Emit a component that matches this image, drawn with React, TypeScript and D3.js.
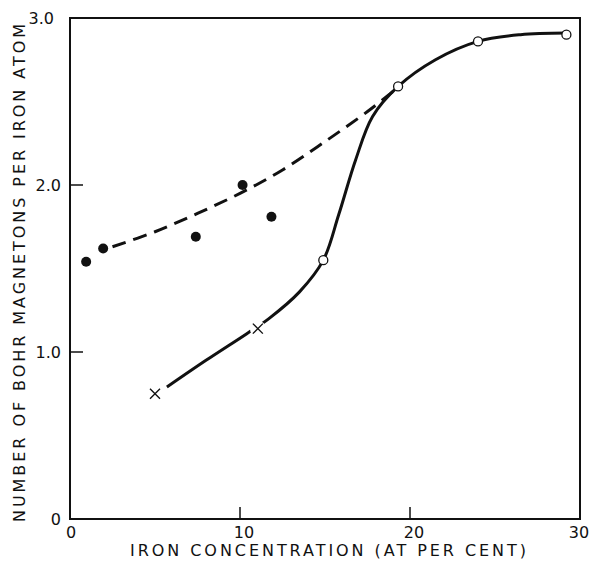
import * as d3 from "d3"

// filled dots
const dotX = [0.95, 1.95, 7.4, 10.15, 11.85]
const dotY = [1.54, 1.62, 1.69, 2.0, 1.81]

// dashed trend through the dots
const dashX = [2.5, 5, 7.5, 10, 12.5, 15, 17.5, 19.0]
const dashY = [1.63, 1.72, 1.83, 1.95, 2.09, 2.26, 2.44, 2.56]

// solid curve
const solidX = [5.7, 8.0, 10.4, 11.7, 13.5, 14.9, 15.8, 16.8, 17.8, 19.3, 21.5, 24.0, 26.5, 29.2]
const solidY = [0.79, 0.95, 1.11, 1.2, 1.36, 1.55, 1.82, 2.15, 2.41, 2.59, 2.75, 2.86, 2.9, 2.91]

// open circles and crosses
const openX = [14.9, 19.3, 24.0, 29.2]
const openY = [1.55, 2.59, 2.86, 2.9]
const crossX = [5.0, 11.05]
const crossY = [0.75, 1.14]

const xTicks = [0, 10, 20, 30]
const yTicks = [0, 1, 2, 3]
const yTickLabels = ["0", "1.0", "2.0", "3.0"]

const W = 592
const H = 561
const font = "'DejaVu Sans', sans-serif"

export default function App() {
    const x = d3.scaleLinear().domain([0, 30]).range([70, 580])
    const y = d3.scaleLinear().domain([0, 3]).range([519, 18])

    const line = d3.line<[number, number]>()
        .x(d => x(d[0]))
        .y(d => y(d[1]))
        .curve(d3.curveCatmullRom.alpha(0.5))

    const dashPts = dashX.map((v, i) => [v, dashY[i]] as [number, number])
    const solidPts = solidX.map((v, i) => [v, solidY[i]] as [number, number])

    // nudge the end labels so they stay inside the page
    const xLabelShift = (t: number) => (t === 0 ? 1 : t === 30 ? -1 : 4)

    return (
        <div style={{ position: "absolute", left: 0, top: 0 }}>
            <svg width={W} height={H} style={{ display: "block", background: "#fff" }}>
                {/* frame */}
                <rect x={x(0)} y={y(3)} width={x(30) - x(0)} height={y(0) - y(3)}
                    fill="none" stroke="#111" strokeWidth={2} />
                {/* inner ticks */}
                {[10, 20].map(t => (
                    <line key={"xt" + t} x1={x(t)} x2={x(t)} y1={y(0)} y2={y(0) - 12}
                        stroke="#111" strokeWidth={1.5} />
                ))}
                {[1, 2].map(t => (
                    <line key={"yt" + t} x1={x(0)} x2={x(0) + 13} y1={y(t)} y2={y(t)}
                        stroke="#111" strokeWidth={1.5} />
                ))}
                {/* tick labels */}
                {xTicks.map(t => (
                    <text key={"xl" + t} x={x(t) + xLabelShift(t)} y={538}
                        textAnchor="middle" fontFamily={font} fontSize={16} fill="#111">{t}</text>
                ))}
                {yTicks.map((t, i) => (
                    <text key={"yl" + t} x={t === 3 ? 54 : 61} y={y(t) + 6}
                        textAnchor="end" fontFamily={font} fontSize={16} fill="#111">{yTickLabels[i]}</text>
                ))}
                {/* axis titles */}
                <text x={328} y={556} textAnchor="middle" fontFamily={font} fontSize={16}
                    textLength={396} lengthAdjust="spacing" fill="#111">IRON CONCENTRATION (AT PER CENT)</text>
                <text transform={`translate(25,${273}) rotate(-90)`} textAnchor="middle"
                    fontFamily={font} fontSize={16} textLength={498} lengthAdjust="spacing"
                    fill="#111">NUMBER OF BOHR MAGNETONS PER IRON ATOM</text>

                {/* curves */}
                <path d={line(dashPts) ?? ""} fill="none" stroke="#111" strokeWidth={3}
                    strokeDasharray="14,8" />
                <path d={line(solidPts) ?? ""} fill="none" stroke="#111" strokeWidth={3} />

                {/* crosses, with a white gap in the curve */}
                {crossX.map((v, i) => (
                    <g key={"c" + i} transform={`translate(${x(v)},${y(crossY[i])})`}>
                        <circle r={i === 1 ? 8 : 0} fill="#fff" />
                        <path d="M-5,-5L5,5M-5,5L5,-5" stroke="#111" strokeWidth={1.4} />
                    </g>
                ))}
                {/* open circles */}
                {openX.map((v, i) => (
                    <circle key={"o" + i} cx={x(v)} cy={y(openY[i])} r={4.5}
                        fill="#fff" stroke="#111" strokeWidth={1.3} />
                ))}
                {/* filled dots */}
                {dotX.map((v, i) => (
                    <circle key={"d" + i} cx={x(v)} cy={y(dotY[i])} r={5} fill="#111" />
                ))}
            </svg>
        </div>
    )
}
